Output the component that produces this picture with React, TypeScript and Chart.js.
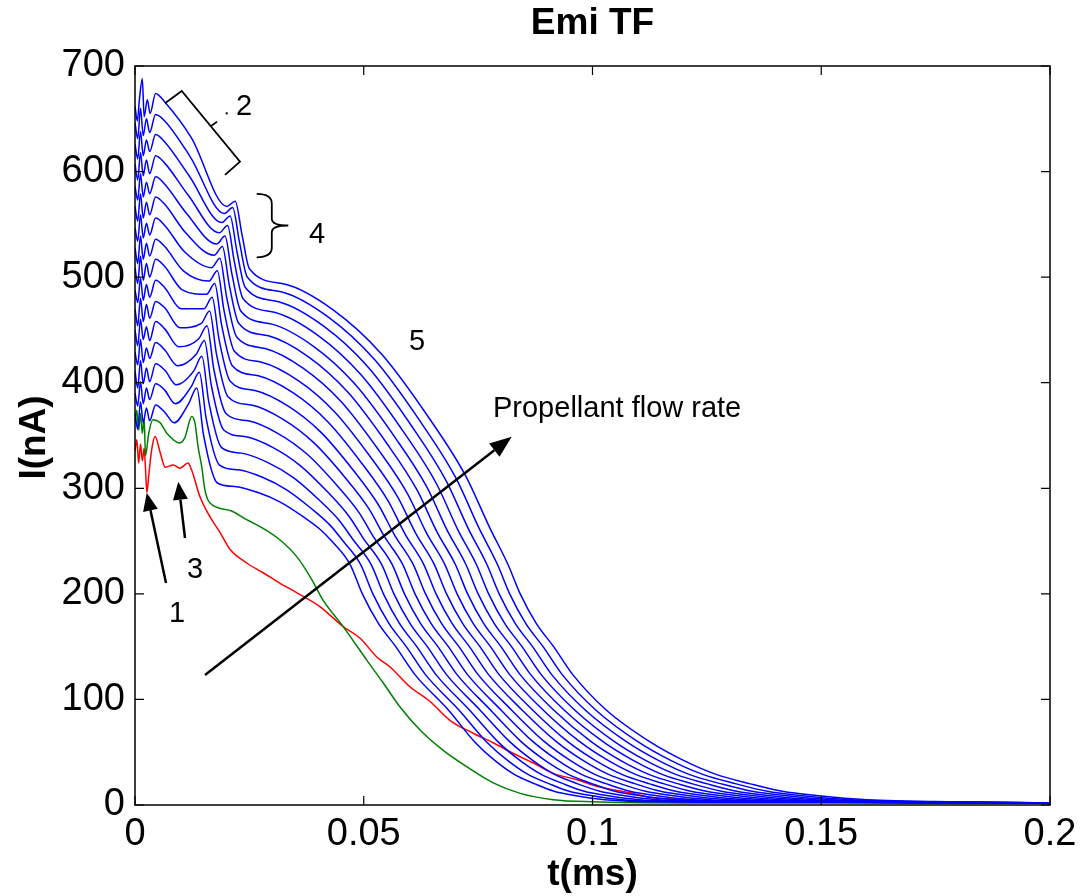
import React, { useEffect, useRef } from "react";
import { Chart, registerables } from "chart.js";

Chart.register(...registerables);

const FONT = '"Liberation Sans", Arial, Helvetica, sans-serif';

const X_TICKS = [0, 0.05, 0.1, 0.15, 0.2];
const X_TICK_LABELS = ["0", "0.05", "0.1", "0.15", "0.2"];
const Y_TICKS = [0, 100, 200, 300, 400, 500, 600, 700];
const Y_TICK_LABELS = ["0", "100", "200", "300", "400", "500", "600", "700"];

const TITLE = "Emi TF";
const X_LABEL = "t(ms)";
const Y_LABEL = "I(nA)";

// [t (ms), I (nA)]
const RED_SERIES: [number, number][] = [
  [0, 335], [0.0004, 346], [0.0008, 324], [0.0012, 342], [0.0016, 326], [0.002, 338], [0.0023, 318],
  [0.0026, 296], [0.003, 312], [0.0037, 338], [0.0044, 349], [0.0055, 334], [0.0066, 320], [0.0084, 322],
  [0.0098, 319], [0.0116, 324], [0.0124, 317], [0.0142, 292], [0.0164, 273], [0.0186, 258], [0.0208, 242],
  [0.0245, 229], [0.028, 220], [0.0317, 210], [0.0354, 201], [0.0404, 188], [0.0455, 169], [0.0492, 158],
  [0.0529, 140], [0.0557, 131], [0.0601, 112], [0.0645, 98], [0.0689, 80], [0.0739, 68], [0.0783, 59],
  [0.0826, 49], [0.087, 40], [0.0914, 30], [0.0966, 24], [0.1016, 17], [0.1089, 11], [0.1126, 7],
  [0.12, 5], [0.14, 3], [0.2, 2],
];

const GREEN_SERIES: [number, number][] = [
  [0, 362], [0.0004, 374], [0.0008, 355], [0.0012, 371], [0.0016, 352], [0.002, 366], [0.0023, 331],
  [0.003, 352], [0.0039, 365], [0.0055, 362], [0.007, 352], [0.0098, 343], [0.0109, 348], [0.0124, 368],
  [0.0131, 362], [0.0138, 339], [0.0146, 320], [0.0153, 298], [0.0164, 286], [0.0208, 279], [0.0245, 270],
  [0.028, 262], [0.0317, 251], [0.0354, 235], [0.0383, 216], [0.0411, 194], [0.0455, 169], [0.0507, 137],
  [0.0542, 116], [0.0579, 93], [0.0623, 71], [0.0673, 52], [0.0726, 36], [0.0783, 21], [0.0842, 11],
  [0.0914, 5], [0.1, 3], [0.12, 2], [0.2, 2],
];

const BLUE_01: [number, number][] = [
  [0, 371], [0.0006, 356], [0.0012, 382], [0.0018, 362], [0.0025, 376], [0.0032, 364], [0.0045, 379],
  [0.0065, 372], [0.00855, 362], [0.0117, 380], [0.0135, 395], [0.015, 350], [0.018, 305], [0.02175, 301.7],
  [0.02675, 296.2], [0.03175, 286.9], [0.03675, 273.1], [0.0405, 261], [0.043, 250], [0.047, 228],
  [0.0497, 200], [0.0532, 172], [0.057, 150], [0.0611, 124], [0.0685, 90], [0.0742, 60], [0.0787, 42],
  [0.0829, 29], [0.0874, 20], [0.0916, 13], [0.0961, 9], [0.1027, 5], [0.1147, 3], [0.2, 2],
];
const BLUE_02: [number, number][] = [
  [0, 390], [0.0006, 378], [0.0012, 401], [0.0018, 380], [0.0025, 395], [0.0032, 384], [0.0045, 399],
  [0.0065, 393], [0.0088, 380], [0.01226, 396], [0.01406, 410], [0.01556, 366], [0.01847, 322],
  [0.02249, 317.5], [0.02786, 310.4], [0.03323, 298.3], [0.03859, 280.6], [0.04262, 265.1], [0.0453, 251],
  [0.0493, 228], [0.052, 200], [0.0555, 172], [0.0593, 150], [0.0634, 124], [0.0708, 90], [0.0768, 60],
  [0.0815, 42], [0.0859, 29], [0.0906, 20], [0.0949, 13], [0.0996, 9], [0.1065, 5], [0.1191, 3], [0.2, 2],
];
const BLUE_03: [number, number][] = [
  [0, 411], [0.0006, 395], [0.0012, 421], [0.0018, 399], [0.0025, 414], [0.0032, 401], [0.0045, 418],
  [0.0065, 412], [0.00905, 398], [0.01282, 411], [0.01462, 425], [0.01612, 382], [0.01893, 338.5],
  [0.02323, 333.3], [0.02896, 324.6], [0.0347, 309.9], [0.04043, 288.2], [0.04473, 269.1], [0.0476, 251.7],
  [0.0516, 228], [0.0543, 200], [0.0578, 172], [0.0616, 150], [0.0657, 124], [0.0731, 90], [0.0793, 60],
  [0.0842, 42], [0.0888, 29], [0.0937, 20], [0.0982, 13], [0.1031, 9], [0.1103, 5], [0.1234, 3], [0.2, 2],
];
const BLUE_04: [number, number][] = [
  [0, 429], [0.0006, 417], [0.0012, 441], [0.0018, 419], [0.0025, 433], [0.0032, 423], [0.0045, 438],
  [0.0065, 431], [0.00931, 416], [0.01338, 427], [0.01518, 440], [0.01668, 397.6], [0.0194, 355.2],
  [0.02398, 349], [0.03008, 338.8], [0.03618, 321.3], [0.04228, 295.7], [0.04685, 273.1], [0.0499, 252.6],
  [0.0539, 228], [0.0566, 200], [0.0601, 172], [0.0639, 150], [0.068, 124], [0.0754, 90], [0.0819, 60],
  [0.087, 42], [0.0917, 29], [0.0968, 20], [0.1016, 13], [0.1067, 9], [0.1142, 5], [0.1278, 3], [0.2, 2],
];
const BLUE_05: [number, number][] = [
  [0, 450], [0.0006, 435], [0.0012, 460], [0.0018, 441], [0.0025, 453], [0.0032, 440], [0.0045, 458],
  [0.0065, 451], [0.00956, 434], [0.01394, 441.7], [0.01574, 454], [0.01724, 412.5], [0.01987, 370.9],
  [0.02472, 363.9], [0.03119, 352.1], [0.03765, 332.2], [0.04412, 302.8], [0.04897, 277], [0.0522, 253.5],
  [0.0562, 228], [0.0589, 200], [0.0624, 172], [0.0662, 150], [0.0703, 124], [0.0777, 90], [0.0844, 60],
  [0.0897, 42], [0.0947, 29], [0.1, 20], [0.1049, 13], [0.1102, 9], [0.118, 5], [0.1321, 3], [0.2, 2],
];
const BLUE_06: [number, number][] = [
  [0, 470], [0.0006, 454], [0.0012, 480], [0.0018, 458], [0.0025, 474], [0.0032, 461], [0.0045, 477],
  [0.0065, 471], [0.00981, 452], [0.0145, 456.3], [0.0163, 468], [0.0178, 427.4], [0.02033, 386.7],
  [0.02546, 378.8], [0.03229, 365.5], [0.03912, 343], [0.04596, 310], [0.05108, 280.9], [0.0545, 254.4],
  [0.0585, 228], [0.0612, 200], [0.0647, 172], [0.0685, 150], [0.0726, 124], [0.08, 90], [0.087, 60],
  [0.0925, 42], [0.0976, 29], [0.1031, 20], [0.1082, 13], [0.1137, 9], [0.1218, 5], [0.1364, 3], [0.2, 2],
];
const BLUE_07: [number, number][] = [
  [0, 488], [0.0006, 476], [0.0012, 499], [0.0018, 478], [0.0025, 493], [0.0032, 481], [0.0045, 497],
  [0.0065, 490], [0.01006, 470], [0.01506, 470], [0.01686, 481], [0.01836, 441.2], [0.0208, 401.4],
  [0.0262, 392.6], [0.0334, 378], [0.0406, 353.2], [0.0478, 316.6], [0.0532, 284.4], [0.0568, 255.2],
  [0.0608, 228], [0.0635, 200], [0.067, 172], [0.0708, 150], [0.0749, 124], [0.0823, 90], [0.0895, 60],
  [0.0952, 42], [0.1005, 29], [0.1062, 20], [0.1116, 13], [0.1173, 9], [0.1256, 5], [0.1408, 3], [0.2, 2],
];
const BLUE_08: [number, number][] = [
  [0, 509], [0.0006, 494], [0.0012, 520], [0.0018, 497], [0.0025, 513], [0.0032, 500], [0.0045, 517],
  [0.0065, 510], [0.01031, 488], [0.01562, 483.7], [0.01742, 494], [0.01892, 455], [0.02127, 416.1],
  [0.02694, 406.5], [0.03451, 390.5], [0.04208, 363.3], [0.04964, 323.3], [0.05532, 288.1], [0.0591, 256.1],
  [0.0631, 228], [0.0658, 200], [0.0693, 172], [0.0731, 150], [0.0772, 124], [0.0846, 90], [0.0921, 60],
  [0.098, 42], [0.1035, 29], [0.1094, 20], [0.1149, 13], [0.1208, 9], [0.1295, 5], [0.1452, 3], [0.2, 2],
];
const BLUE_09: [number, number][] = [
  [0, 528], [0.0006, 513], [0.0012, 539], [0.0018, 517], [0.0025, 532], [0.0032, 520], [0.0045, 536],
  [0.0065, 529], [0.01057, 506], [0.01618, 496.3], [0.01798, 506], [0.01948, 467.9], [0.02173, 429.8],
  [0.02768, 419.4], [0.03561, 402.2], [0.04355, 372.8], [0.05148, 329.6], [0.05743, 291.6], [0.0614, 257],
  [0.0654, 228], [0.0681, 200], [0.0716, 172], [0.0754, 150], [0.0795, 124], [0.0869, 90], [0.0946, 60],
  [0.1007, 42], [0.1064, 29], [0.1125, 20], [0.1182, 13], [0.1243, 9], [0.1332, 5], [0.1495, 3], [0.2, 2],
];
const BLUE_10: [number, number][] = [
  [0, 547], [0.0006, 534], [0.0012, 559], [0.0018, 537], [0.0025, 551], [0.0032, 540], [0.0045, 556],
  [0.0065, 549], [0.01082, 524], [0.01674, 509], [0.01854, 518], [0.02004, 480.8], [0.0222, 443.6],
  [0.02843, 432.5], [0.03673, 413.9], [0.04503, 382.3], [0.05333, 335.8], [0.05955, 295], [0.0637, 257.8],
  [0.0677, 228], [0.0704, 200], [0.0739, 172], [0.0777, 150], [0.0818, 124], [0.0892, 90], [0.0972, 60],
  [0.1035, 42], [0.1094, 29], [0.1157, 20], [0.1215, 13], [0.1278, 9], [0.1371, 5], [0.1539, 3], [0.2, 2],
];
const BLUE_11: [number, number][] = [
  [0, 567], [0.0006, 553], [0.0012, 579], [0.0018, 556], [0.0025, 571], [0.0032, 559], [0.0045, 576],
  [0.0065, 569], [0.01107, 542], [0.0173, 520.7], [0.0191, 529], [0.0206, 492.7], [0.02267, 456.3],
  [0.02917, 444.4], [0.03784, 424.7], [0.0465, 391.1], [0.05517, 341.7], [0.06167, 298.2], [0.066, 258.7],
  [0.07, 228], [0.0727, 200], [0.0762, 172], [0.08, 150], [0.0841, 124], [0.0915, 90], [0.0997, 60],
  [0.1062, 42], [0.1123, 29], [0.1188, 20], [0.1249, 13], [0.1314, 9], [0.1409, 5], [0.1583, 3], [0.2, 2],
];
const BLUE_12: [number, number][] = [
  [0, 586], [0.0006, 573], [0.0012, 598], [0.0018, 576], [0.0025, 590], [0.0032, 579], [0.0045, 595],
  [0.0065, 588], [0.01132, 560], [0.01786, 531.3], [0.01966, 539], [0.02116, 503.5], [0.02313, 468],
  [0.02991, 455.5], [0.03894, 434.7], [0.04797, 399.2], [0.05701, 347.1], [0.06378, 301.3], [0.0683, 259.6],
  [0.0723, 228], [0.075, 200], [0.0785, 172], [0.0823, 150], [0.0864, 124], [0.0938, 90], [0.1023, 60],
  [0.109, 42], [0.1152, 29], [0.1219, 20], [0.1282, 13], [0.1349, 9], [0.1447, 5], [0.1626, 3], [0.2, 2],
];
const BLUE_13: [number, number][] = [
  [0, 607], [0.0006, 592], [0.0012, 618], [0.0018, 596], [0.0025, 611], [0.0032, 598], [0.0045, 615],
  [0.0065, 608], [0.01157, 578], [0.01842, 542], [0.02022, 549], [0.02172, 514.4], [0.0236, 479.8],
  [0.03065, 466.6], [0.04005, 444.7], [0.04945, 407.4], [0.05885, 352.5], [0.0659, 304.3], [0.0706, 260.4],
  [0.0746, 228], [0.0773, 200], [0.0808, 172], [0.0846, 150], [0.0887, 124], [0.0961, 90], [0.1048, 60],
  [0.1117, 42], [0.1182, 29], [0.1251, 20], [0.1315, 13], [0.1384, 9], [0.1485, 5], [0.1669, 3], [0.2, 2],
];
const BLUE_14: [number, number][] = [
  [0, 626], [0.0006, 612], [0.0012, 638], [0.0018, 615], [0.0025, 630], [0.0032, 619], [0.0045, 635],
  [0.0065, 628], [0.01183, 596], [0.01898, 551.7], [0.02078, 558], [0.02228, 524.3], [0.02407, 490.5],
  [0.03139, 476.7], [0.04116, 453.8], [0.05093, 414.9], [0.06069, 357.6], [0.06802, 307.1], [0.0729, 261.3],
  [0.0769, 228], [0.0796, 200], [0.0831, 172], [0.0869, 150], [0.091, 124], [0.0984, 90], [0.1074, 60],
  [0.1145, 42], [0.1211, 29], [0.1282, 20], [0.1349, 13], [0.142, 9], [0.1524, 5], [0.1713, 3], [0.2, 2],
];
const BLUE_15: [number, number][] = [
  [0, 646], [0.0006, 631], [0.0012, 660], [0.0018, 634], [0.0025, 650], [0.0032, 637], [0.0045, 654],
  [0.0065, 648], [0.01208, 614], [0.01954, 560.3], [0.02134, 566], [0.02284, 533.1], [0.02453, 500.2],
  [0.03213, 485.9], [0.04226, 462.1], [0.0524, 421.7], [0.06253, 362.2], [0.07013, 309.8], [0.0752, 262.2],
  [0.0792, 228], [0.0819, 200], [0.0854, 172], [0.0892, 150], [0.0933, 124], [0.1007, 90], [0.1099, 60],
  [0.1172, 42], [0.1241, 29], [0.1314, 20], [0.1382, 13], [0.1455, 9], [0.1562, 5], [0.1756, 3], [0.2, 2],
];
const BLUE_16: [number, number][] = [
  [0, 662], [0.0005, 648], [0.001, 670], [0.0016, 688], [0.002, 652], [0.0027, 668], [0.0033, 655],
  [0.0045, 674], [0.0065, 666], [0.01233, 632], [0.0201, 567], [0.0219, 572], [0.0234, 540], [0.025, 508],
  [0.03288, 493.3], [0.04338, 468.8], [0.05388, 427.2], [0.06438, 365.9], [0.07225, 312], [0.0775, 263],
  [0.0815, 228], [0.0842, 200], [0.0877, 172], [0.0915, 150], [0.0956, 124], [0.103, 90], [0.1125, 60],
  [0.12, 42], [0.127, 29], [0.1345, 20], [0.1415, 13], [0.149, 9], [0.16, 5], [0.18, 3], [0.2, 2],
];

const BLUE_SERIES = [
  BLUE_01, BLUE_02, BLUE_03, BLUE_04, BLUE_05, BLUE_06, BLUE_07, BLUE_08,
  BLUE_09, BLUE_10, BLUE_11, BLUE_12, BLUE_13, BLUE_14, BLUE_15, BLUE_16,
];

// Annotations in data units [t, I]
const NOTE_TEXTS = ["1", "2", "3", "4", "5"];
const NOTE_POS: [number, number][] = [
  [0.00918, 173.3], [0.02383, 653.6], [0.01311, 215.0], [0.03978, 532.3], [0.06164, 431.0],
];
const FLOW_TEXT = "Propellant flow rate";
const FLOW_TEXT_POS: [number, number] = [0.07825, 367.5];
// arrows: [start, tip]
const ARROW_FLOW: [number, number][] = [[0.0153, 123.1], [0.08234, 348.9]];
const ARROW_1: [number, number][] = [[0.00678, 210.3], [0.00256, 295.8]];
const ARROW_3: [number, number][] = [[0.01093, 252.9], [0.00946, 306.2]];
const BRACKET_2: [number, number][] = [
  [0.00656, 664.7], [0.01021, 676.3], [0.02295, 609.4], [0.01967, 596.8],
];
const BRACKET_2_STUB: [number, number][] = [[0.01648, 642.8], [0.01793, 647.2]];
const BRACKET_2_DOT: [number, number] = [0.02004, 655.2];
const BRACE_4: [number, number][] = [
  [0.0266, 578.8], [0.0299, 578.8], [0.0299, 569.5], [0.0299, 555.3], [0.0299, 548.9],
  [0.03351, 548.9], [0.0299, 548.9], [0.0299, 542.4], [0.0299, 528.0], [0.0299, 518.8], [0.0266, 518.8],
];

function toPts(arr: [number, number][]) {
  return arr.map(([x, y]) => ({ x, y }));
}

function drawArrow(ctx: CanvasRenderingContext2D, x1: number, y1: number, x2: number, y2: number, headLen: number, headW: number, lw: number) {
  const ang = Math.atan2(y2 - y1, x2 - x1);
  const bx = x2 - headLen * Math.cos(ang);
  const by = y2 - headLen * Math.sin(ang);
  ctx.lineWidth = lw;
  ctx.beginPath();
  ctx.moveTo(x1, y1);
  ctx.lineTo(bx, by);
  ctx.stroke();
  const px = -Math.sin(ang) * headW / 2;
  const py = Math.cos(ang) * headW / 2;
  ctx.beginPath();
  ctx.moveTo(x2, y2);
  ctx.lineTo(bx + px, by + py);
  ctx.lineTo(bx - px, by - py);
  ctx.closePath();
  ctx.fill();
}

const decorPlugin = {
  id: "decor",
  afterDatasetsDraw(chart: any) {
    const ctx: CanvasRenderingContext2D = chart.ctx;
    const xs = chart.scales.x;
    const ys = chart.scales.y;
    const X = (t: number) => xs.getPixelForValue(t);
    const Y = (v: number) => ys.getPixelForValue(v);
    const { left, right, top, bottom } = chart.chartArea;
    ctx.save();
    ctx.strokeStyle = "#000";
    ctx.fillStyle = "#000";
    // box
    ctx.lineWidth = 1.5;
    ctx.strokeRect(left, top, right - left, bottom - top);
    // inward ticks
    ctx.lineWidth = 1.2;
    ctx.beginPath();
    for (const v of Y_TICKS) {
      const y = Y(v);
      ctx.moveTo(left, y); ctx.lineTo(left + 9, y);
      ctx.moveTo(right, y); ctx.lineTo(right - 9, y);
    }
    for (const v of X_TICKS) {
      const x = X(v);
      ctx.moveTo(x, bottom); ctx.lineTo(x, bottom - 9);
      ctx.moveTo(x, top); ctx.lineTo(x, top + 9);
    }
    ctx.stroke();

    // titles
    ctx.textAlign = "center";
    ctx.textBaseline = "alphabetic";
    ctx.font = `bold 37px ${FONT}`;
    ctx.fillText(TITLE, (left + right) / 2, 34);
    ctx.fillText(X_LABEL, (left + right) / 2, 885);
    ctx.save();
    ctx.translate(45, (top + bottom) / 2 + 2);
    ctx.rotate(-Math.PI / 2);
    ctx.fillText(Y_LABEL, 0, 0);
    ctx.restore();

    // annotation text
    ctx.font = `29px ${FONT}`;
    NOTE_TEXTS.forEach((txt, i) => {
      ctx.fillText(txt, X(NOTE_POS[i][0]), Y(NOTE_POS[i][1]));
    });
    ctx.textAlign = "left";
    ctx.fillText(FLOW_TEXT, X(FLOW_TEXT_POS[0]), Y(FLOW_TEXT_POS[1]));

    // arrows
    drawArrow(ctx, X(ARROW_FLOW[0][0]), Y(ARROW_FLOW[0][1]), X(ARROW_FLOW[1][0]), Y(ARROW_FLOW[1][1]), 22, 17, 2.5);
    drawArrow(ctx, X(ARROW_1[0][0]), Y(ARROW_1[0][1]), X(ARROW_1[1][0]), Y(ARROW_1[1][1]), 18, 15, 2.5);
    drawArrow(ctx, X(ARROW_3[0][0]), Y(ARROW_3[0][1]), X(ARROW_3[1][0]), Y(ARROW_3[1][1]), 18, 15, 2.5);

    // bracket 2
    ctx.lineWidth = 1.8;
    ctx.beginPath();
    BRACKET_2.forEach(([t, v], i) => (i === 0 ? ctx.moveTo(X(t), Y(v)) : ctx.lineTo(X(t), Y(v))));
    ctx.moveTo(X(BRACKET_2_STUB[0][0]), Y(BRACKET_2_STUB[0][1]));
    ctx.lineTo(X(BRACKET_2_STUB[1][0]), Y(BRACKET_2_STUB[1][1]));
    ctx.stroke();
    ctx.fillRect(X(BRACKET_2_DOT[0]) - 1, Y(BRACKET_2_DOT[1]) - 1, 2, 2);

    // brace 4
    const B = BRACE_4.map(([t, v]) => [X(t), Y(v)]);
    ctx.beginPath();
    ctx.moveTo(B[0][0], B[0][1]);
    ctx.quadraticCurveTo(B[1][0], B[1][1], B[2][0], B[2][1]);
    ctx.lineTo(B[3][0], B[3][1]);
    ctx.quadraticCurveTo(B[4][0], B[4][1], B[5][0], B[5][1]);
    ctx.quadraticCurveTo(B[6][0], B[6][1], B[7][0], B[7][1]);
    ctx.lineTo(B[8][0], B[8][1]);
    ctx.quadraticCurveTo(B[9][0], B[9][1], B[10][0], B[10][1]);
    ctx.stroke();

    ctx.restore();
  },
};

export default function App() {
  const ref = useRef<HTMLCanvasElement | null>(null);
  useEffect(() => {
    if (!ref.current) return;
    const base = {
      borderWidth: 1.5,
      pointRadius: 0,
      fill: false,
      cubicInterpolationMode: "monotone" as const,
    };
    const datasets: any[] = [];
    BLUE_SERIES.forEach((s, i) => {
      datasets.push({ ...base, label: `blue${i + 1}`, data: toPts(s), borderColor: "#0000ff", order: 1 });
    });
    datasets.push({ ...base, label: "green", data: toPts(GREEN_SERIES), borderColor: "#008000", order: 2 });
    datasets.push({ ...base, label: "red", data: toPts(RED_SERIES), borderColor: "#ff0000", order: 3 });

    const chart = new Chart(ref.current, {
      type: "line",
      data: { datasets },
      options: {
        responsive: false,
        devicePixelRatio: 1,
        animation: false,
        layout: { padding: { top: 66, right: 34, left: 0, bottom: 0 } },
        plugins: { legend: { display: false }, tooltip: { enabled: false }, title: { display: false } },
        scales: {
          x: {
            type: "linear",
            min: 0,
            max: 0.2,
            grid: { display: false, drawTicks: false },
            border: { display: false },
            afterBuildTicks: (scale: any) => {
              scale.ticks = X_TICKS.map((v) => ({ value: v }));
            },
            afterFit: (scale: any) => {
              scale.height = 91;
            },
            ticks: {
              padding: 7,
              color: "#000",
              font: { family: FONT, size: 38, lineHeight: 1.2 },
              maxRotation: 0,
              autoSkip: false,
              callback: (v: any) => {
                const i = X_TICKS.findIndex((t) => Math.abs(t - Number(v)) < 1e-9);
                return i >= 0 ? X_TICK_LABELS[i] : "";
              },
            },
          },
          y: {
            type: "linear",
            min: 0,
            max: 700,
            grid: { display: false, drawTicks: false },
            border: { display: false },
            afterBuildTicks: (scale: any) => {
              scale.ticks = Y_TICKS.map((v) => ({ value: v }));
            },
            afterFit: (scale: any) => {
              scale.width = 135;
            },
            ticks: {
              padding: 10,
              color: "#000",
              font: { family: FONT, size: 38, lineHeight: 1.2 },
              autoSkip: false,
              callback: (v: any) => {
                const i = Y_TICKS.indexOf(Number(v));
                return i >= 0 ? Y_TICK_LABELS[i] : "";
              },
            },
          },
        },
      },
      plugins: [decorPlugin],
    });
    return () => chart.destroy();
  }, []);

  return (
    <div style={{ position: "absolute", left: 0, top: 0, width: 1084, height: 896, background: "#fff" }}>
      <canvas ref={ref} width={1084} height={896} style={{ display: "block" }} />
    </div>
  );
}
